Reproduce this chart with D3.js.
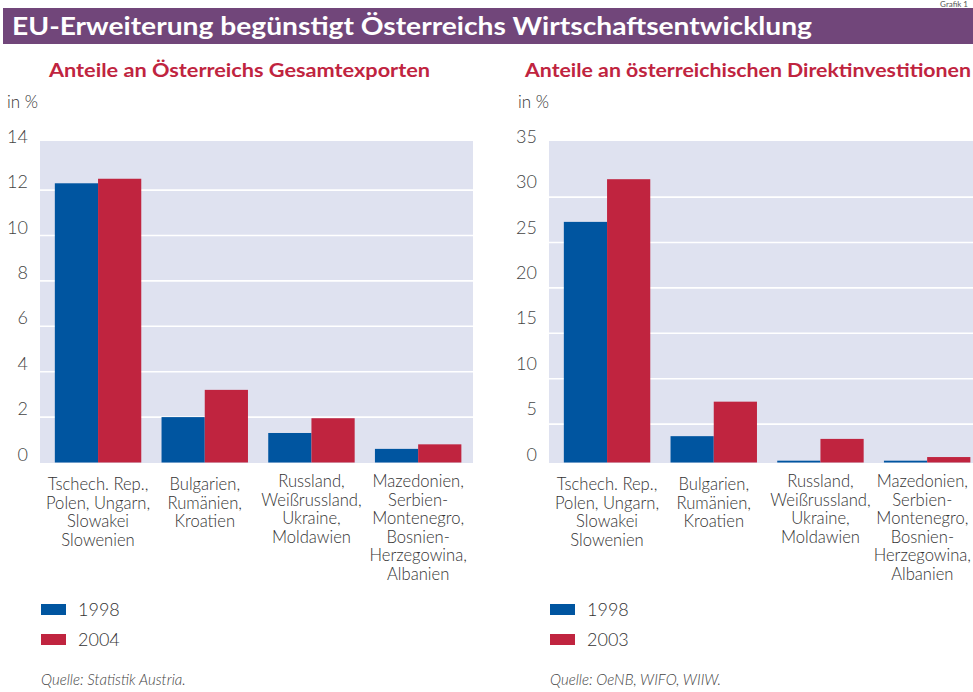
<!DOCTYPE html>
<html>
<head>
<meta charset="utf-8">
<script src="https://cdn.jsdelivr.net/npm/d3@7"></script>
<style>
  body { margin: 0; background: #fff; }
  svg text { font-family: Lato, "Open Sans", sans-serif; }
</style>
</head>
<body>
<div id="chart"></div>
<script>
// Data
const categories = [
  ["Tschech. Rep.,", "Polen, Ungarn,", "Slowakei", "Slowenien"],
  ["Bulgarien,", "Rumänien,", "Kroatien"],
  ["Russland,", "Weißrussland,", "Ukraine,", "Moldawien"],
  ["Mazedonien,", "Serbien-", "Montenegro,", "Bosnien-", "Herzegowina,", "Albanien"],
];
const catLift = [0, 0, 3, 3];

const exports1998 = [12.3, 2.0, 1.3, 0.6];
const exports2004 = [12.5, 3.2, 1.95, 0.8];
const exportTicks = [0, 2, 4, 6, 8, 10, 12, 14];

const fdi1998 = [26.5, 2.9, 0.2, 0.2];
const fdi2003 = [31.2, 6.7, 2.6, 0.6];
const fdiTicks = [0, 5, 10, 15, 20, 25, 30, 35];

// Colors
const BLUE = "#0055a0";
const RED = "#c0243f";
const BG = "#dfe2f0";
const PURPLE = "#71467a";

const W = 973, H = 692;

const svg = d3
  .select("#chart")
  .append("svg")
  .attr("width", W)
  .attr("height", H);

// Header
svg.append("text")
  .attr("x", 968)
  .attr("y", 7)
  .attr("text-anchor", "end")
  .attr("font-size", 8)
  .attr("fill", "#555")
  .text("Grafik 1");

svg.append("rect")
  .attr("x", 3)
  .attr("y", 8)
  .attr("width", W - 3)
  .attr("height", 36)
  .attr("fill", PURPLE);

svg.append("text")
  .attr("x", 12)
  .attr("y", 35)
  .attr("font-size", 25)
  .attr("font-weight", 700)
  .attr("fill", "#fff")
  .attr("textLength", 800)
  .attr("lengthAdjust", "spacingAndGlyphs")
  .text("EU-Erweiterung begünstigt Österreichs Wirtschaftsentwicklung");

/* Draws one grouped bar panel */
function drawPanel(cfg) {
  const g = svg.append("g").attr("transform", "translate(" + cfg.left + ",0)");

  const PLOT_L = 40, PLOT_R = 473, PLOT_T = 141, PLOT_B = 463;

  const x = d3.scaleBand()
    .domain(d3.range(categories.length))
    .range([44.7, 471.5])
    .paddingInner(0.19)
    .paddingOuter(0.095);

  const x1 = d3.scaleBand()
    .domain([0, 1])
    .range([0, x.bandwidth()]);

  const y = d3.scaleLinear()
    .domain([0, cfg.max])
    .range([462.5, 462.5 - cfg.ticks.length * 45.4 + 45.4]);

  // Subtitle
  g.append("text")
    .attr("x", cfg.subX)
    .attr("y", 77)
    .attr("font-size", 19)
    .attr("font-weight", 700)
    .attr("fill", RED)
    .attr("textLength", cfg.subW)
    .attr("lengthAdjust", "spacingAndGlyphs")
    .text(cfg.subtitle);

  g.append("text")
    .attr("x", cfg.unitX)
    .attr("y", 108)
    .attr("font-size", 17)
    .attr("font-weight", 300)
    .attr("fill", "#333")
    .text("in %");

  // Plot background
  g.append("rect")
    .attr("x", PLOT_L)
    .attr("y", PLOT_T)
    .attr("width", PLOT_R - PLOT_L)
    .attr("height", PLOT_B - PLOT_T)
    .attr("fill", BG);

  // Gridlines
  g.selectAll(".grid")
    .data(cfg.ticks.filter((t) => t > 0 && t < cfg.max))
    .enter()
    .append("line")
    .attr("x1", PLOT_L)
    .attr("x2", PLOT_R)
    .attr("y1", (d) => y(d) + cfg.gridShift)
    .attr("y2", (d) => y(d) + cfg.gridShift)
    .attr("stroke", "#fff")
    .attr("stroke-width", 1.6);

  // Y labels
  g.selectAll(".ylab")
    .data(cfg.ticks)
    .enter()
    .append("text")
    .attr("x", PLOT_L - 12)
    .attr("y", (d) => y(d) - 2)
    .attr("text-anchor", "end")
    .attr("font-size", 18)
    .attr("font-weight", 300)
    .attr("fill", "#444")
    .text((d) => d);

  // Bars
  const series = [cfg.a, cfg.b];
  const colors = [BLUE, RED];
  series.forEach((vals, s) => {
    g.selectAll(".bar" + s)
      .data(vals)
      .enter()
      .append("rect")
      .attr("x", (d, i) => x(i) + x1(s))
      .attr("y", (d) => y(d))
      .attr("width", x1.bandwidth())
      .attr("height", (d) => y(0) - y(d))
      .attr("fill", colors[s]);
  });

  // Category labels (kept inside the page edge)
  categories.forEach((lines, i) => {
    const t = g.append("text")
      .attr("text-anchor", "middle")
      .attr("font-size", 16.6)
      .attr("font-weight", 300)
      .attr("fill", "#333");
    let cx = x(i) + x.bandwidth() / 2;
    lines.forEach((ln, k) => {
      t.append("tspan")
        .attr("x", cx)
        .attr("y", 490 - catLift[i] + k * 18.5)
        .text(ln);
    });
    const bb = t.node().getBBox();
    const over = cfg.left + bb.x + bb.width - (W - 2);
    if (over > 0) t.selectAll("tspan").attr("x", cx - over);
  });

  // Legend
  const leg = g.selectAll(".leg")
    .data(cfg.legend)
    .enter()
    .append("g")
    .attr("transform", (d, i) => "translate(41," + (604 + i * 30) + ")");

  leg.append("rect")
    .attr("width", 25)
    .attr("height", 11)
    .attr("fill", (d, i) => colors[i]);

  leg.append("text")
    .attr("x", 37)
    .attr("y", 12)
    .attr("font-size", 18)
    .attr("font-weight", 300)
    .attr("fill", "#333")
    .text((d) => d);

  // Source
  g.append("text")
    .attr("x", 41)
    .attr("y", 685)
    .attr("font-size", 15)
    .attr("font-style", "italic")
    .attr("font-weight", 300)
    .attr("fill", "#444")
    .text(cfg.source);
}

drawPanel({
  left: 0,
  subtitle: "Anteile an Österreichs Gesamtexporten",
  subX: 49, subW: 381, unitX: 7,
  max: 14, ticks: exportTicks, gridShift: 0,
  a: exports1998, b: exports2004,
  legend: ["1998", "2004"],
  source: "Quelle: Statistik Austria.",
});

drawPanel({
  left: 509,
  subtitle: "Anteile an österreichischen Direktinvestitionen",
  subX: 16, subW: 446, unitX: 9,
  max: 35, ticks: fdiTicks, gridShift: 7,
  a: fdi1998, b: fdi2003,
  legend: ["1998", "2003"],
  source: "Quelle: OeNB, WIFO, WIIW.",
});
</script>
</body>
</html>
